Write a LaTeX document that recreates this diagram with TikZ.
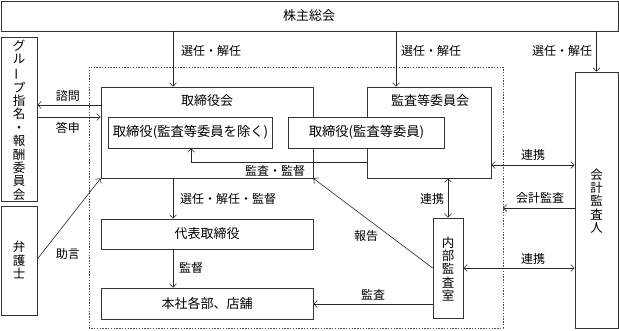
\documentclass[tikz,border=0pt]{standalone}
\usepackage{fontspec}
\setmainfont{Noto Sans CJK JP}
\usetikzlibrary{arrows.meta}
\newcommand\vchoon{\rotatebox[origin=c]{90}{ー}}
\begin{document}
\begin{tikzpicture}[x=1pt,y=-1pt,
  box/.style={draw=black!80, line width=0.7pt, inner sep=0pt},
  wbox/.style={box, fill=white},
  ttl/.style={font=\fontsize{13}{14}\selectfont, inner sep=0pt},
  sttl/.style={font=\fontsize{13.3}{14}\selectfont, inner sep=0pt},
  lbl/.style={font=\fontsize{12}{14}\selectfont, inner sep=0pt},
  vtxt/.style={font=\fontsize{12.5}{13.4}\selectfont, align=center, inner sep=0pt},
  tip/.tip={Straight Barb[length=3.5pt,width=7pt,line width=0.6pt]},
  arr/.style={draw=black!85, line width=0.6pt, -tip},
  darr/.style={draw=black!85, line width=0.6pt, tip-tip},
  zone/.style={draw=black!70, line width=0.8pt, dash pattern=on 1.4pt off 1.4pt}]
\useasboundingbox (0,0) rectangle (619,330);
% boxes
\node[box, minimum width=617pt, minimum height=30pt] (kabu) at (309.5,16) {};
\node[ttl] (kabut) at (309,16) {株主総会};
\node[box, minimum width=36pt, minimum height=164pt] (group) at (19,119) {};
\node[vtxt] (groupt) at (19,120) {グ\\ル\\\vchoon\\プ\\指\\名\\・\\報\\酬\\委\\員\\会};
\node[box, minimum width=36pt, minimum height=109pt] (bengo) at (19,260.5) {};
\node[vtxt] (bengot) at (19,260) {弁\\護\\士};
\draw[zone] (89,67) rectangle (503,328);
\coordinate (zr) at (503,208);
\node[box, minimum width=212pt, minimum height=91pt] (tk) at (207,132.5) {};
\node[ttl] (tkt) at (207,101) {取締役会};
\node[box, minimum width=124pt, minimum height=91pt] (ka) at (429,132.5) {};
\node[ttl] (kat) at (430,101) {監査等委員会};
\node[wbox, minimum width=164pt, minimum height=31pt, sttl] (s1) at (190.5,132.5) {取締役(監査等委員を除く)};
\node[wbox, minimum width=156pt, minimum height=31pt, sttl] (s2) at (366.5,132.5) {取締役(監査等委員)};
\node[box, minimum width=212pt, minimum height=30pt, ttl] (dh) at (207,234) {代表取締役};
\node[box, minimum width=212pt, minimum height=31pt, ttl] (hs) at (207,303.5) {本社各部、店舗};
\node[box, minimum width=30pt, minimum height=100pt] (nb) at (448,268) {};
\node[vtxt] (nbt) at (448,269) {内\\部\\監\\査\\室};
\node[box, minimum width=43pt, minimum height=256pt] (kk) at (596.5,200) {};
\node[vtxt] (kkt) at (596.5,201) {会\\計\\監\\査\\人};
% helper coordinates
\coordinate (x1) at (173,0);
\coordinate (x2) at (396,0);
\coordinate (c4) at (191,162);
\coordinate (y1) at (0,105);
\coordinate (y2) at (0,117);
\coordinate (y3) at (0,259);
\coordinate (y4) at (0,165);
\coordinate (y5) at (0,304);
% connectors
\draw[arr] (x1 |- kabu.south) -- (x1 |- tk.north);
\draw[arr] (x2 |- kabu.south) -- (x2 |- ka.north);
\draw[arr] (kabu.south -| kk.north) -- (kk.north);
\draw[arr] (c4 -| ka.west) -- (c4) -- (c4 |- s1.south);
\draw[arr] (y1 -| tk.west) -- (y1 -| group.east);
\draw[arr] (y2 -| group.east) -- (y2 -| tk.west);
\draw[arr] (y3 -| bengo.east) -- (tk.south west);
\draw[arr] (x1 |- tk.south) -- (x1 |- dh.north);
\draw[arr] (x1 |- dh.south) -- (x1 |- hs.north);
\draw[darr] (y4 -| ka.east) -- (y4 -| kk.west);
\draw[arr] (zr -| kk.west) -- (zr);
\draw[darr] (nb.east) -- (nb.east -| kk.west);
\draw[darr] (ka.south -| nb.north) -- (nb.north);
\draw[arr] (nb.west) -- (tk.south east);
\draw[arr] (y5 -| nb.west) -- (y5 -| hs.east);
% labels
\node[lbl] (l1) at (211,51) {選任・解任};
\node[lbl] (l2) at (431,51) {選任・解任};
\node[lbl] (l3) at (562,51) {選任・解任};
\node[lbl] (l4) at (68,96) {諮問};
\node[lbl] (l5) at (68,128) {答申};
\node[lbl] (l6) at (275,171) {監査・監督};
\node[lbl] (l7) at (228,199) {選任・解任・監督};
\node[lbl] (l8) at (191,268) {監督};
\node[lbl] (l9) at (68,254) {助言};
\node[lbl] (l10) at (366,236) {報告};
\node[lbl] (l11) at (373,295) {監査};
\node[lbl] (l12) at (432,199) {連携};
\node[lbl] (l13) at (533,155) {連携};
\node[lbl] (l14) at (540,198) {会計監査};
\node[lbl] (l15) at (533,259) {連携};
\end{tikzpicture}
\end{document}
